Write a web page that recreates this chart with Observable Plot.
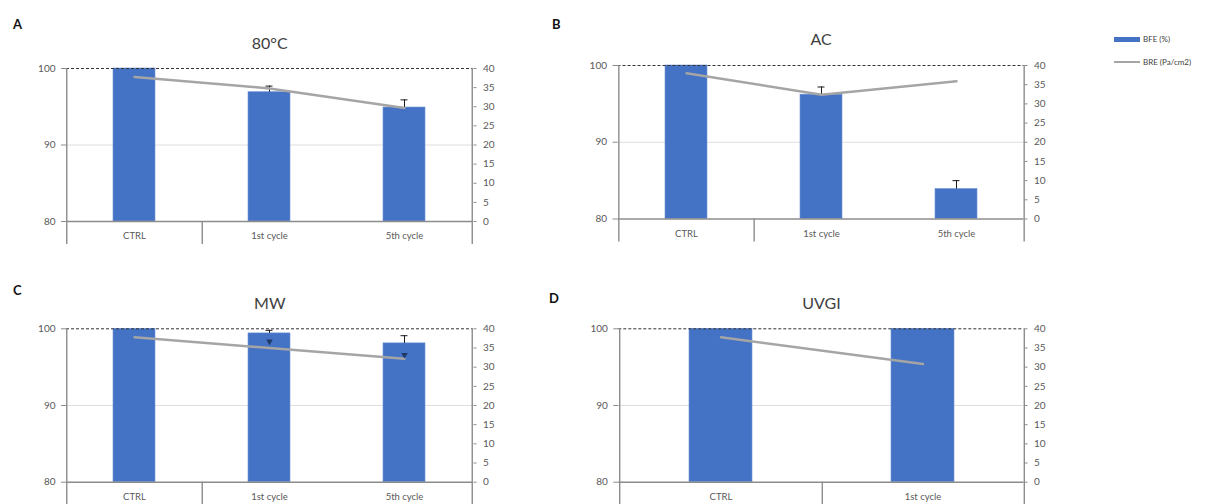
<!DOCTYPE html>
<html><head><meta charset="utf-8">
<script src="https://cdn.jsdelivr.net/npm/d3@7"></script>
<script src="https://cdn.jsdelivr.net/npm/@observablehq/plot@0.6"></script>
<style>
body{margin:0;background:#fff;width:1210px;height:504px;overflow:hidden;position:relative;font-family:Lato,"Open Sans",sans-serif}
.panel{position:absolute}
.letter{position:absolute;font-weight:bold;font-size:13px;color:#111;line-height:13px}
.leg{position:absolute;font-size:8px;color:#404040;line-height:10px}
</style></head><body>
<script>
// ---- data ----
const titles = ["80°C", "AC", "MW", "UVGI"];
const letters = ["A", "B", "C", "D"];
const catsA = ["CTRL", "1st cycle", "5th cycle"];
const catsB = ["CTRL", "1st cycle", "5th cycle"];
const catsC = ["CTRL", "1st cycle", "5th cycle"];
const catsD = ["CTRL", "1st cycle"];
const bfeA = [100, 96.9, 94.9];
const bfeErrA = [0, 0.8, 1.0];
const breA = [37.8, 34.8, 29.7];
const bfeB = [100, 96.2, 83.9];
const bfeErrB = [0, 1.0, 1.1];
const breB = [38.0, 32.4, 35.9];
const bfeC = [100, 99.4, 98.1];
const bfeErrC = [0, 0.4, 1.0];
const breC = [37.8, 35.0, 32.2];
const breErrC = [0, 1.7, 1.0];
const bfeD = [100, 100];
const bfeErrD = [0, 0];
const breD = [37.8, 30.8];
const leftTicks = [80, 90, 100];
const rightTicks = [0, 5, 10, 15, 20, 25, 30, 35, 40];
const legendLabels = ["BFE (%)", "BRE (Pa/cm2)"];

const BLUE = "#4472C4", GREY = "#A5A5A5", AXIS = "#8c8c8c";
const toY = v => 80 + v / 2; // right axis (0–40) onto left axis (80–100)

function makePanel(cfg) {
  const {width, height, ml, mr, mt, mb, cats, bfe, bfeErr, bre, breErr, title, titleDy} = cfg;
  const data = cats.map((c, i) => ({cat: c, bfe: bfe[i], err: bfeErr[i], bre: bre[i], breErr: breErr ? breErr[i] : 0}));
  const step = (width - ml - mr) / cats.length;
  const bw = step * 0.31;
  const capInset = (bw - 7) / 2;
  const withErr = data.filter(d => d.err > 0);
  const withBreErr = data.filter(d => d.breErr > 0);
  const drop = mb > 30 ? -23 : -30;
  return Plot.plot({
    width, height, marginLeft: ml, marginRight: mr, marginTop: mt, marginBottom: mb,
    style: {fontFamily: "Lato, 'Open Sans', sans-serif", color: "#595959", background: "transparent", overflow: "visible"},
    x: {domain: cats, paddingInner: 0.69, paddingOuter: 0.345, axis: null, label: null},
    y: {domain: [80, 100], axis: null, label: null},
    marks: [
      Plot.ruleY([90], {stroke: "#dedede", strokeWidth: 1}),
      Plot.barY(data, {x: "cat", y1: 80, y2: "bfe", fill: BLUE, stroke: "#6e93d6", strokeWidth: 0.6}),
      Plot.ruleX(withErr, {x: "cat", y1: "bfe", y2: d => d.bfe + d.err, stroke: "#1a1a1a", strokeWidth: 1}),
      Plot.tickY(withErr, {x: "cat", y: d => d.bfe + d.err, stroke: "#1a1a1a", strokeWidth: 1, insetLeft: capInset, insetRight: capInset}),
      Plot.ruleY([100], {stroke: "#333", strokeWidth: 1, strokeDasharray: "3,2"}),
      Plot.line(data, {x: "cat", y: d => toY(d.bre), stroke: GREY, strokeWidth: 2.5}),
      Plot.dot(withBreErr, {x: "cat", y: d => toY(d.bre + d.breErr), symbol: "triangle", rotate: 180, r: 2.4, fill: "#1f3864", stroke: "none"}),
      Plot.ruleY([80], {stroke: AXIS, strokeWidth: 1.4}),
      Plot.ruleX([cats[0]], {x: d => d, dx: -step / 2, insetBottom: drop, stroke: AXIS, strokeWidth: 1.4}),
      Plot.ruleX([cats[cats.length - 1]], {x: d => d, dx: step / 2, insetBottom: drop, stroke: AXIS, strokeWidth: 1.4}),
      Plot.ruleX([cats[0]], {x: d => d, dx: step / 2, y1: 80, y2: 80, insetBottom: drop, stroke: AXIS, strokeWidth: 1.4}),
      Plot.axisY({anchor: "left", label: null, ticks: leftTicks, tickSize: 5, tickPadding: 6, fontSize: 10, stroke: AXIS}),
      Plot.axisY({anchor: "right", label: null, ticks: rightTicks.map(toY), tickFormat: d => String(Math.round((d - 80) * 2)), tickSize: 3, tickPadding: 7, fontSize: 10, stroke: AXIS}),
      Plot.axisX({anchor: "bottom", label: null, tickSize: 0, tickPadding: 11, fontSize: 9.5}),
      Plot.text([title], {frameAnchor: "top", dy: titleDy, fontSize: 16, fill: "#404040", lineAnchor: "middle"})
    ]
  });
}

const layouts = [
  {left: 0, top: 0, width: 545, height: 255, ml: 66, mr: 72.5, mt: 68, mb: 34, cats: catsA, bfe: bfeA, bfeErr: bfeErrA, bre: breA, titleDy: -25},
  {left: 545, top: 0, width: 555, height: 255, ml: 72.5, mr: 76.5, mt: 65, mb: 36.5, cats: catsB, bfe: bfeB, bfeErr: bfeErrB, bre: breB, titleDy: -26},
  {left: 0, top: 255, width: 545, height: 249, ml: 66, mr: 72.5, mt: 73.3, mb: 22.3, cats: catsC, bfe: bfeC, bfeErr: bfeErrC, bre: breC, breErr: breErrC, titleDy: -25},
  {left: 545, top: 255, width: 555, height: 249, ml: 73.3, mr: 76.5, mt: 73.3, mb: 22.3, cats: catsD, bfe: bfeD, bfeErr: bfeErrD, bre: breD, titleDy: -25}
];
const letterPos = [[13, 18], [552, 18], [13, 284], [549, 292]];

layouts.forEach((L, i) => {
  const div = document.createElement("div");
  div.className = "panel";
  div.style.left = L.left + "px";
  div.style.top = L.top + "px";
  div.appendChild(makePanel({...L, title: titles[i]}));
  document.body.appendChild(div);
  const lt = document.createElement("div");
  lt.className = "letter";
  lt.textContent = letters[i];
  lt.style.left = letterPos[i][0] + "px";
  lt.style.top = letterPos[i][1] + "px";
  document.body.appendChild(lt);
});

// legend
const legItems = [
  {label: legendLabels[0], y: 39.5, swatch: `background:${BLUE};height:4.5px`},
  {label: legendLabels[1], y: 62.3, swatch: `background:${GREY};height:2px`}
];
legItems.forEach(it => {
  const sw = document.createElement("div");
  const h = parseFloat(it.swatch.split("height:")[1]);
  sw.style.cssText = `position:absolute;left:1114px;width:26px;top:${it.y - h / 2}px;${it.swatch}`;
  document.body.appendChild(sw);
  const tx = document.createElement("div");
  tx.className = "leg";
  tx.textContent = it.label;
  tx.style.left = "1143px";
  tx.style.top = (it.y - 5.5) + "px";
  document.body.appendChild(tx);
});
</script>
</body></html>
